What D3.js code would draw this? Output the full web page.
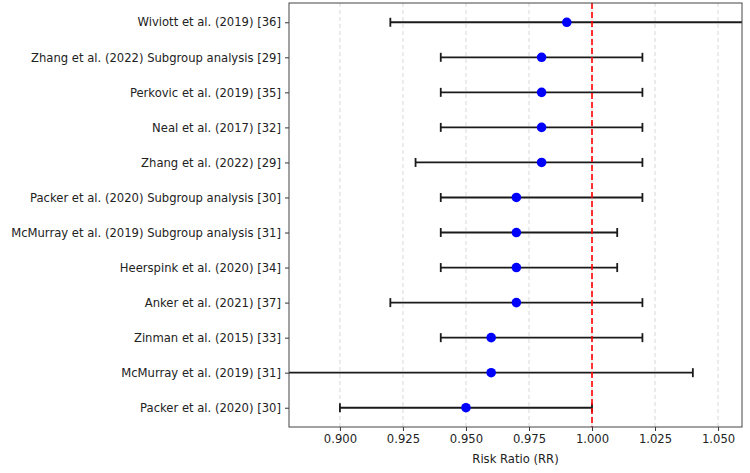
<!DOCTYPE html>
<html><head><meta charset="utf-8">
<script src="https://cdn.jsdelivr.net/npm/d3@7"></script>
<style>body{margin:0;background:#fff;} svg{display:block;font-family:"DejaVu Sans",sans-serif;}</style>
</head><body>
<svg id="c" width="750" height="473"></svg>
<script>
const studies = ["Wiviott et al. (2019) [36]","Zhang et al. (2022) Subgroup analysis [29]","Perkovic et al. (2019) [35]","Neal et al. (2017) [32]","Zhang et al. (2022) [29]","Packer et al. (2020) Subgroup analysis [30]","McMurray et al. (2019) Subgroup analysis [31]","Heerspink et al. (2020) [34]","Anker et al. (2021) [37]","Zinman et al. (2015) [33]","McMurray et al. (2019) [31]","Packer et al. (2020) [30]"];
const rr    = [0.99,0.98,0.98,0.98,0.98,0.97,0.97,0.97,0.97,0.96,0.96,0.95];
const lower = [0.92,0.94,0.94,0.94,0.93,0.94,0.94,0.94,0.92,0.94,0.86,0.90];
const upper = [1.10,1.02,1.02,1.02,1.02,1.02,1.01,1.01,1.02,1.02,1.04,1.00];
const xTicks = [0.900,0.925,0.950,0.975,1.000,1.025,1.050];
const xDomain = [0.8798,1.0595];

const svg = d3.select("#c");
const L=289,R=742,T=3,B=427;
const FS=11.6;
const x = d3.scaleLinear().domain(xDomain).range([L,R]);
const y = d3.scaleLinear().domain([-0.55, studies.length-1+0.55]).range([T,B]);

svg.append("defs").append("clipPath").attr("id","clip").append("rect")
  .attr("x",L).attr("y",T).attr("width",R-L).attr("height",B-T);

// grid
svg.append("g").selectAll("line").data(xTicks).join("line")
  .attr("x1",d=>x(d)).attr("x2",d=>x(d)).attr("y1",T).attr("y2",B)
  .attr("stroke","#cfcfcf").attr("stroke-width",0.8).attr("stroke-dasharray","4,3");

const data = studies.map((s,i)=>({s,i,rr:rr[i],lo:lower[i],hi:upper[i]}));
const g = svg.append("g").attr("clip-path","url(#clip)");
g.selectAll(".eb").data(data).join("line")
  .attr("x1",d=>x(d.lo)).attr("x2",d=>x(d.hi)).attr("y1",d=>y(d.i)).attr("y2",d=>y(d.i))
  .attr("stroke","#1a1a1a").attr("stroke-width",1.8);
g.selectAll(".capl").data(data).join("line")
  .attr("x1",d=>x(d.lo)).attr("x2",d=>x(d.lo)).attr("y1",d=>y(d.i)-4.5).attr("y2",d=>y(d.i)+4.5)
  .attr("stroke","#1a1a1a").attr("stroke-width",1.8);
g.selectAll(".caph").data(data).join("line")
  .attr("x1",d=>x(d.hi)).attr("x2",d=>x(d.hi)).attr("y1",d=>y(d.i)-4.5).attr("y2",d=>y(d.i)+4.5)
  .attr("stroke","#1a1a1a").attr("stroke-width",1.8);

// ref line
g.append("line").attr("x1",x(1)).attr("x2",x(1)).attr("y1",T).attr("y2",B)
  .attr("stroke","#ff0000").attr("stroke-width",1.6).attr("stroke-dasharray","6,3");

g.selectAll("circle").data(data).join("circle")
  .attr("cx",d=>x(d.rr)).attr("cy",d=>y(d.i)).attr("r",4.8).attr("fill","#0000ff");

// axes
const xAxis = d3.axisBottom(x).tickValues(xTicks).tickFormat(d3.format(".3f")).tickSize(4).tickPadding(4);
const xg = svg.append("g").attr("transform",`translate(0,${B})`).call(xAxis);
xg.select(".domain").remove();
xg.selectAll("text").attr("font-size",FS).attr("fill","#222").attr("font-family","DejaVu Sans");
xg.selectAll("line").attr("stroke","#333");

const yAxis = d3.axisLeft(y).tickValues(d3.range(studies.length)).tickFormat(i=>studies[i]).tickSize(4).tickPadding(4);
const yg = svg.append("g").attr("transform",`translate(${L},0)`).call(yAxis);
yg.select(".domain").remove();
yg.selectAll("text").attr("font-size",FS).attr("fill","#222").attr("font-family","DejaVu Sans");
yg.selectAll("line").attr("stroke","#333");

svg.append("rect").attr("x",L).attr("y",T).attr("width",R-L).attr("height",B-T)
  .attr("fill","none").attr("stroke","#444").attr("stroke-width",1);

svg.append("text").attr("x",(L+R)/2).attr("y",463).attr("text-anchor","middle")
  .attr("font-size",FS).attr("fill","#222").text("Risk Ratio (RR)");
</script>
</body></html>
